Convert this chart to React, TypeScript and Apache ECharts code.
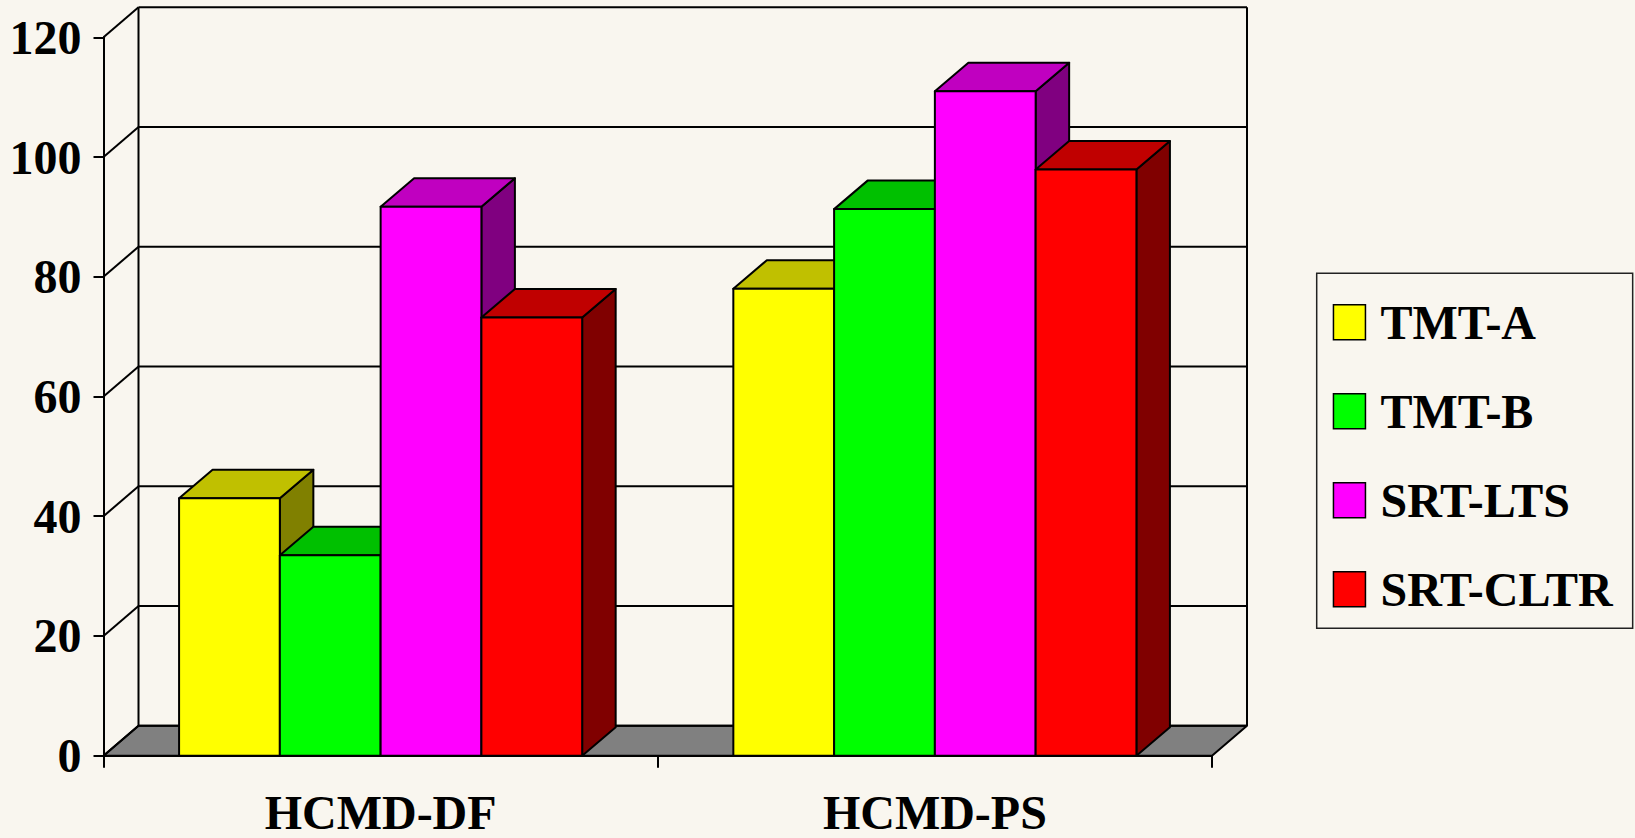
import React, { useEffect, useRef } from "react";
import * as echarts from "echarts";

// Categories, series and values
const categories = ["HCMD-DF", "HCMD-PS"];
const seriesNames = ["TMT-A", "TMT-B", "SRT-LTS", "SRT-CLTR"];
const tmtA = [43, 78];
const tmtB = [33.5, 91.3];
const srtLts = [91.7, 111];
const srtCltr = [73.2, 97.9];
const seriesValues = [tmtA, tmtB, srtLts, srtCltr];
const yTicks = [0, 20, 40, 60, 80, 100, 120];

// Face colours for each series: front, top, side
const FRONT = ["#ffff00", "#00ff00", "#ff00ff", "#ff0000"];
const TOP = ["#c0c000", "#00c000", "#c000c0", "#c00000"];
const SIDE = ["#808000", "#008000", "#800080", "#800000"];

// Pseudo-3D projection offsets (pixels)
const WALL_DX = 35;
const WALL_DY = -30;
const BAR_DX = 33.5;
const BAR_DY = -28.5;
const GAP_RATIO = 1.5;

const FONT = "'Liberation Serif', 'Times New Roman', serif";
const EDGE = { stroke: "#000", lineWidth: 2, lineJoin: "round" as const };

function renderBar(k: number) {
  return (params: any, api: any) => {
    const catIdx = api.value(0);
    const val = api.value(1);
    const top = api.coord([catIdx, val]);
    const base = api.coord([catIdx, 0]);
    const band = api.size([1, 0])[0];
    const w = band / (seriesNames.length + GAP_RATIO);
    const x0 = top[0] - (seriesNames.length / 2) * w + k * w;
    const x1 = x0 + w;
    const yT = top[1];
    const yB = base[1];
    return {
      type: "group",
      children: [
        {
          type: "polygon",
          shape: {
            points: [
              [x1, yB],
              [x1 + BAR_DX, yB + BAR_DY],
              [x1 + BAR_DX, yT + BAR_DY],
              [x1, yT],
            ],
          },
          style: { fill: SIDE[k], ...EDGE },
        },
        {
          type: "polygon",
          shape: {
            points: [
              [x0, yT],
              [x1, yT],
              [x1 + BAR_DX, yT + BAR_DY],
              [x0 + BAR_DX, yT + BAR_DY],
            ],
          },
          style: { fill: TOP[k], ...EDGE },
        },
        {
          type: "rect",
          shape: { x: x0, y: yT, width: w, height: yB - yT },
          style: { fill: FRONT[k], ...EDGE },
        },
      ],
    };
  };
}

function renderWall(params: any, api: any) {
  const cs = params.coordSys;
  const xl = cs.x;
  const xr = cs.x + cs.width;
  const y = api.coord([0, api.value(1)])[1];
  const children: any[] = [];
  if (params.dataIndex === 0) {
    const yTop = api.coord([0, yTicks[yTicks.length - 1]])[1];
    children.push({
      type: "polygon",
      shape: {
        points: [
          [xl, y],
          [xr, y],
          [xr + WALL_DX, y + WALL_DY],
          [xl + WALL_DX, y + WALL_DY],
        ],
      },
      style: { fill: "#808080", ...EDGE },
    });
    children.push({
      type: "line",
      shape: { x1: xl + WALL_DX, y1: y + WALL_DY, x2: xl + WALL_DX, y2: yTop + WALL_DY },
      style: { ...EDGE },
    });
    children.push({
      type: "line",
      shape: { x1: xr + WALL_DX, y1: y + WALL_DY, x2: xr + WALL_DX, y2: yTop + WALL_DY },
      style: { ...EDGE },
    });
  }
  children.push({
    type: "line",
    shape: { x1: xl + WALL_DX, y1: y + WALL_DY, x2: xr + WALL_DX, y2: y + WALL_DY },
    style: { ...EDGE },
  });
  children.push({
    type: "line",
    shape: { x1: xl, y1: y, x2: xl + WALL_DX, y2: y + WALL_DY },
    style: { ...EDGE },
  });
  return { type: "group", children };
}

export default function App() {
  const ref = useRef<HTMLDivElement>(null);

  useEffect(() => {
    if (!ref.current) return;
    const chart = echarts.init(ref.current, undefined, { renderer: "svg" });
    const option: any = {
      animation: false,
      backgroundColor: "#f9f6ef",
      grid: { left: 103.5, right: 423, top: 37.3, bottom: 82.3 },
      legend: {
        data: seriesNames,
        orient: "vertical",
        left: 1316.7,
        top: 273.3,
        padding: [25, 20, 15, 16],
        itemWidth: 32,
        itemHeight: 35,
        itemGap: 41,
        icon: "rect",
        borderColor: "#222",
        borderWidth: 1.5,
        itemStyle: { borderColor: "#000", borderWidth: 1.5 },
        textStyle: {
          fontFamily: FONT,
          fontWeight: "bold",
          fontSize: 48,
          color: "#000",
          lineHeight: 35,
          padding: [0, 0, 0, 10],
        },
      },
      xAxis: {
        type: "category",
        data: categories,
        boundaryGap: true,
        axisLine: { lineStyle: { color: "#000", width: 2 } },
        axisTick: { show: true, length: 12, alignWithLabel: false, lineStyle: { color: "#000", width: 2 } },
        axisLabel: {
          fontFamily: FONT,
          fontWeight: "bold",
          fontSize: 48,
          lineHeight: 46,
          color: "#000",
          margin: 34,
        },
        splitLine: { show: false },
      },
      yAxis: {
        type: "value",
        min: 0,
        max: 120,
        interval: 20,
        axisLine: { show: true, lineStyle: { color: "#000", width: 2 } },
        axisTick: { show: true, length: 10, lineStyle: { color: "#000", width: 2 } },
        axisLabel: {
          fontFamily: FONT,
          fontWeight: "bold",
          fontSize: 48,
          color: "#000",
          margin: 22,
        },
        splitLine: { show: false },
      },
      series: [
        {
          name: "wall",
          type: "custom",
          silent: true,
          z: 1,
          data: yTicks.map((v) => [0, v]),
          encode: { x: 0, y: 1 },
          renderItem: renderWall,
        },
        ...seriesNames.map((name, k) => ({
          name,
          type: "custom",
          z: 2,
          itemStyle: { color: FRONT[k] },
          data: categories.map((_, i) => [i, seriesValues[k][i]]),
          encode: { x: 0, y: 1 },
          renderItem: renderBar(k),
        })),
      ],
    };
    chart.setOption(option);
    return () => chart.dispose();
  }, []);

  return (
    <div
      ref={ref}
      style={{ position: "fixed", left: 0, top: 0, width: 1635, height: 838 }}
    />
  );
}
